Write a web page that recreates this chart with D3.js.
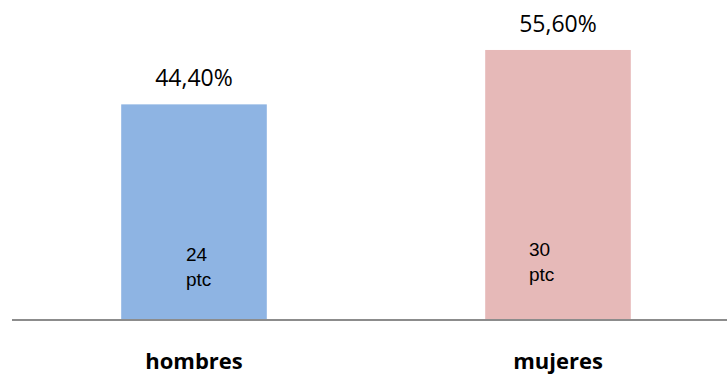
<!DOCTYPE html>
<html>
<head>
<meta charset="utf-8">
<script src="https://cdn.jsdelivr.net/npm/d3@7"></script>
<style>
  body { margin: 0; background: #fff; }
</style>
</head>
<body>
<div id="chart"></div>
<script>
// data
var categories = ["hombres", "mujeres"];
var percents = [44.4, 55.6];
var counts = [24, 30];
var colors = ["#8eb4e3", "#e6b9b8"];

var W = 727, H = 375;
var baseY = 320;

var svg = d3.select("#chart")
    .append("svg")
    .attr("width", W)
    .attr("height", H);

// scales
var x = d3.scaleBand()
    .domain(categories)
    .range([12, 740])
    .paddingInner(0.6)
    .paddingOuter(0.3);

var y = d3.scaleLinear()
    .domain([0, 60])
    .range([baseY, baseY - 291.4]);

// bars
svg.selectAll(".bar")
    .data(categories)
    .enter()
    .append("rect")
    .attr("class", "bar")
    .attr("x", d => x(d))
    .attr("width", x.bandwidth())
    .attr("y", (d, i) => y(percents[i]))
    .attr("height", (d, i) => baseY - y(percents[i]))
    .attr("fill", (d, i) => colors[i]);

// percent labels above bars
svg.selectAll(".pct")
    .data(categories)
    .enter()
    .append("text")
    .attr("class", "pct")
    .attr("x", d => x(d) + x.bandwidth() / 2)
    .attr("y", (d, i) => y(percents[i]) - 18)
    .attr("text-anchor", "middle")
    .attr("font-family", "'Open Sans', sans-serif")
    .attr("font-size", "23px")
    .attr("fill", "#000")
    .text((d, i) => percents[i].toFixed(2).replace(".", ",") + "%");

// count labels inside bars (Excel had them nudged by hand)
var innerShift = [-8, -29];
var innerTop = [261, 256];
var inner = svg.selectAll(".cnt")
    .data(categories)
    .enter()
    .append("text")
    .attr("class", "cnt")
    .attr("font-family", "'Liberation Sans', Arial, sans-serif")
    .attr("font-size", "19px")
    .attr("fill", "#000");
inner.append("tspan")
    .attr("x", (d, i) => x(d) + x.bandwidth() / 2 + innerShift[i])
    .attr("y", (d, i) => innerTop[i])
    .text((d, i) => counts[i]);
inner.append("tspan")
    .attr("x", (d, i) => x(d) + x.bandwidth() / 2 + innerShift[i])
    .attr("dy", 25)
    .text("ptc");

// baseline axis
svg.append("line")
    .attr("x1", 12)
    .attr("x2", W)
    .attr("y1", baseY)
    .attr("y2", baseY)
    .attr("stroke", "#8c8c8c")
    .attr("stroke-width", 2);

// category labels
svg.selectAll(".cat")
    .data(categories)
    .enter()
    .append("text")
    .attr("class", "cat")
    .attr("x", d => x(d) + x.bandwidth() / 2)
    .attr("y", 369)
    .attr("text-anchor", "middle")
    .attr("font-family", "'Open Sans', sans-serif")
    .attr("font-weight", "bold")
    .attr("font-size", "22px")
    .attr("fill", "#000")
    .text(d => d);
</script>
</body>
</html>
